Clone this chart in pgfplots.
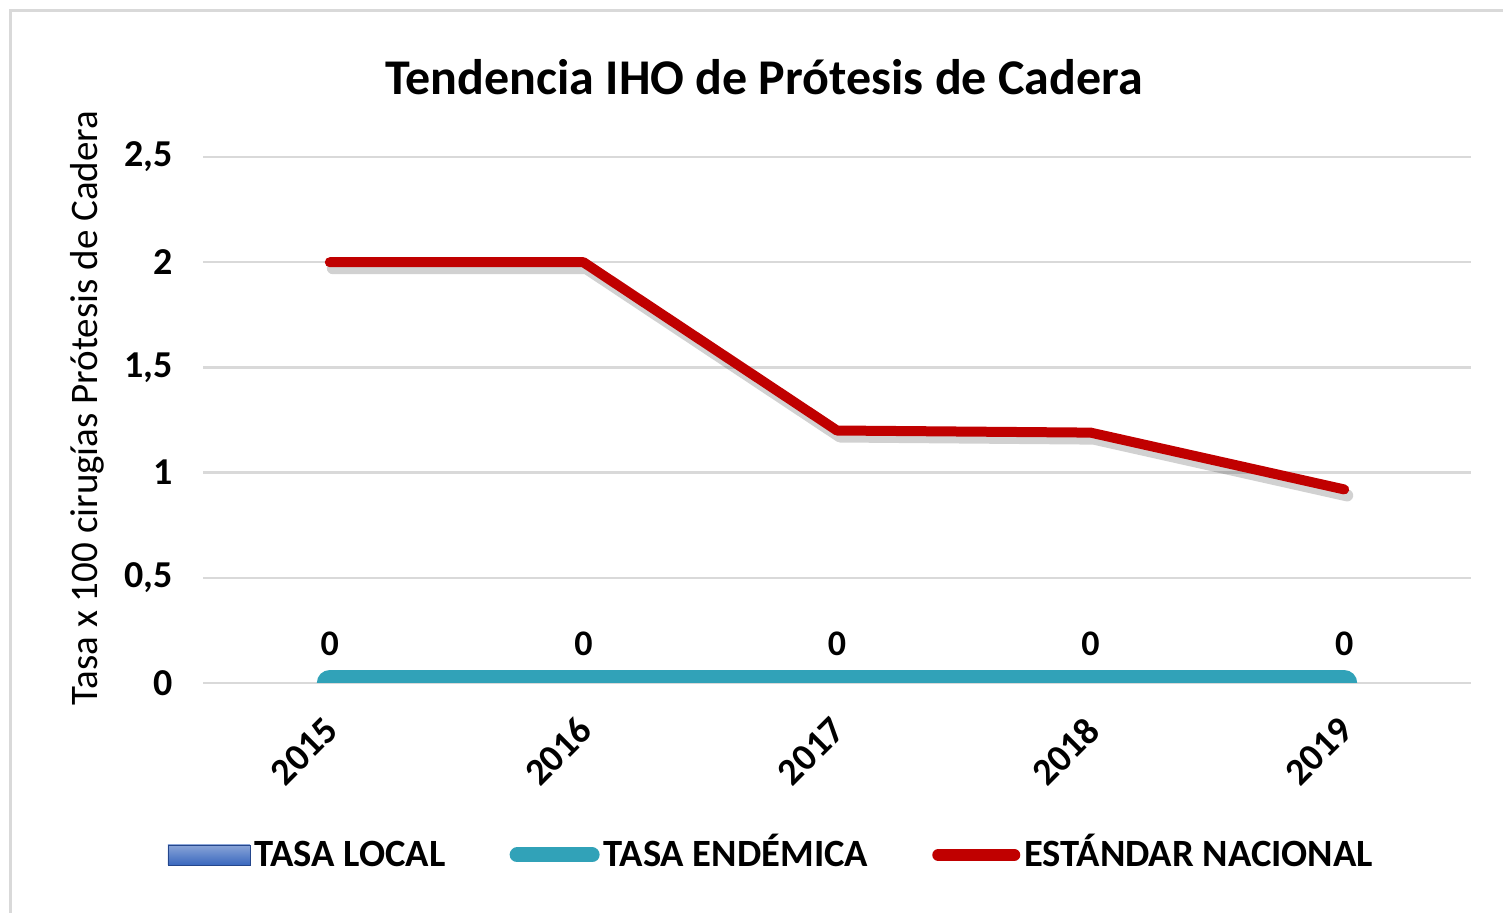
\documentclass[border=0pt]{standalone}
\usepackage{fontspec}
\setmainfont{Carlito}
\usepackage{pgfplots}
\pgfplotsset{compat=1.18}
\definecolor{rojo}{RGB}{192,0,0}
\definecolor{turq}{RGB}{49,162,184}
\definecolor{azul}{RGB}{58,104,190}
\definecolor{azuloscuro}{RGB}{36,70,140}
\definecolor{rejilla}{RGB}{217,217,217}
\definecolor{marco}{RGB}{217,217,217}

\begin{document}
\begin{tikzpicture}[x=0.5pt,y=0.5pt]
\useasboundingbox (0,0) rectangle (1503,913);
\draw[marco, line width=1.5pt] (10,-30) rectangle (1540,902);
\node[font=\bfseries\fontsize{25}{28}\selectfont] at (764,836) {Tendencia IHO de Prótesis de Cadera};
\node[rotate=90, font=\fontsize{19.5}{22}\selectfont] at (87,505) {Tasa x 100 cirugías Prótesis de Cadera};

\begin{axis}[
  at={(101.5pt,115pt)}, anchor=south west,
  scale only axis,
  width=634pt, height=263pt,
  xmin=-0.5, xmax=4.5,
  ymin=0, ymax=2.5,
  xtick={0,1,2,3,4},
  xticklabels={2015,2016,2017,2018,2019},
  ytick={0,0.5,1,1.5,2,2.5},
  yticklabels={0,{0,5},1,{1,5},2,{2,5}},
  axis line style={draw=none},
  major tick style={draw=none},
  ymajorgrids,
  grid style={rejilla, line width=1.2pt},
  ticklabel style={font=\bfseries\fontsize{19}{21}\selectfont},
  yticklabel style={xshift=-11.5pt},
  xticklabel style={rotate=45, anchor=north east, xshift=-10.3pt, yshift=-5.2pt},
  /pgf/number format/assume math mode=true,
  legend columns=3,
  legend style={at={(0.449,-0.327)}, anchor=center, draw=none,
    font=\bfseries\fontsize{19.3}{21}\selectfont,
    nodes={text height=12.5pt, text depth=1pt},
    /tikz/every odd column/.append style={column sep=0pt},
    /tikz/every even column/.append style={column sep=30pt}},
]
% TASA LOCAL (sin datos visibles)
\addlegendimage{legend image code/.code={
  \shade[top color=azul!60, bottom color=azul, draw=azuloscuro]
    (0pt,-5pt) rectangle (41pt,5pt);}}
\addlegendentry{TASA LOCAL}

% TASA ENDÉMICA
\addplot[turq, line width=13pt, line cap=round,
  nodes near coords, point meta=y,
  every node near coord/.append style={font=\bfseries\fontsize{18}{20}\selectfont, text=black, yshift=4pt},
  legend image code/.code={
    \draw[turq, line width=7.5pt, line cap=round] (3.75pt,0pt) -- (41.25pt,0pt);}]
  coordinates {(0,0) (1,0) (2,0) (3,0) (4,0)};
\addlegendentry{TASA ENDÉMICA}

% sombra
\addplot[black, opacity=0.18, line width=6pt, line cap=round, line join=round,
  xshift=1.5pt, yshift=-3pt, forget plot]
  coordinates {(0,2) (1,2) (2,1.2) (3,1.19) (4,0.92)};

% ESTÁNDAR NACIONAL
\addplot[rojo, line width=5pt, line cap=round, line join=round,
  legend image code/.code={
    \draw[rojo, line width=6pt, line cap=round] (3pt,0pt) -- (41pt,0pt);}]
  coordinates {(0,2) (1,2) (2,1.2) (3,1.19) (4,0.92)};
\addlegendentry{ESTÁNDAR NACIONAL}
\end{axis}
\end{tikzpicture}
\end{document}
